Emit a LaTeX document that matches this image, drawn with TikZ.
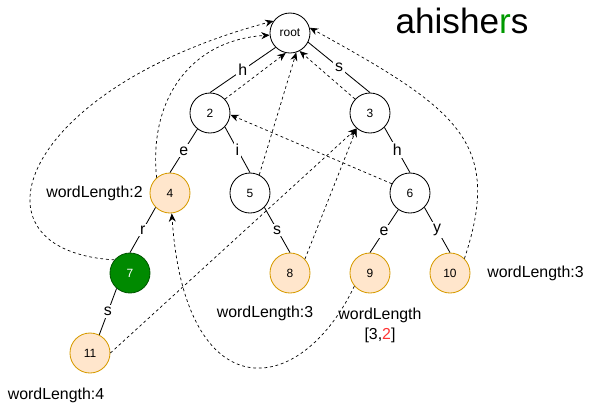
\documentclass[tikz,border=0pt]{standalone}
\usepackage{fontspec}
\setmainfont{Liberation Sans}
\usetikzlibrary{arrows.meta,positioning}
\definecolor{leafFill}{HTML}{FFE6CC}
\definecolor{leafLine}{HTML}{D79B00}
\definecolor{endFill}{HTML}{008A00}
\definecolor{endLine}{HTML}{005700}
\definecolor{titleGreen}{HTML}{009900}
\definecolor{numRed}{HTML}{FF3333}
\begin{document}
\begin{tikzpicture}[>={Stealth[length=6pt,width=5pt]},
  circ/.style={draw,circle,minimum size=1cm,inner sep=0pt,line width=.6pt,font=\fontsize{8.5}{10}\selectfont},
  leaf/.style={circ,draw=leafLine,fill=leafFill},
  word/.style={circ,draw=endLine,fill=endFill,text=white},
  link/.style={line width=.6pt},
  fail/.style={->,dash pattern=on 2pt off 2pt,line width=.5pt},
  lbl/.style={fill=white,inner sep=1.5pt,font=\fontsize{11.3}{13}\selectfont},
  wlen/.style={font=\fontsize{11.3}{14}\selectfont,align=center}]
\useasboundingbox (-7.25,.825) rectangle (7.525,-9.275);
\node[anchor=base,font=\fontsize{25}{30}\selectfont] (title) at (4.3,0) {ahishe{\color{titleGreen}r}s};
\node[circ] (root) at (0,0) {root};
\node[circ] (n2) at (-2,-2) {2};
\node[circ] (n3) at (2,-2) {3};
\node[leaf] (n4) at (-3,-4) {4};
\node[circ] (n5) at (-1,-4) {5};
\node[circ] (n6) at (3,-4) {6};
\node[word] (n7) at (-4,-6) {7};
\node[leaf] (n8) at (0,-6) {8};
\node[leaf] (n9) at (2,-6) {9};
\node[leaf] (n10) at (4,-6) {10};
\node[leaf] (n11) at (-5,-8) {11};
\node[wlen,left=.05 of n4] (wl4) {wordLength:2};
\node[wlen,below=.2 of n8,xshift=-.625cm] (wl8) {wordLength:3};
\node[wlen,below=.25 of n9,xshift=.25cm] (wl9) {wordLength\\{}[3,{\color{numRed}2}]};
\node[wlen,right=.3 of n10] (wl10) {wordLength:3};
\node[wlen,below=.25 of n11,xshift=-.85cm] (wl11) {wordLength:4};
\draw[link](root.225)--(n2.north)node[lbl,midway]{h};
\draw[link](root.-27)--(n3.north)node[lbl,midway]{s};
\draw[link](n2.232)--(n4.north)node[lbl,midway]{e};
\draw[link](n2.-43)--(n5.north)node[lbl,midway]{i};
\draw[link](n3.-45)--(n6.north)node[lbl,midway]{h};
\draw[link](n4.-135)--(n7.north)node[lbl,midway]{r};
\draw[link](n5.-45)--(n8.north)node[lbl,midway]{s};
\draw[link](n6.-125)--(n9.north)node[lbl,midway]{e};
\draw[link](n6.-45)--(n10.north)node[lbl,midway]{y};
\draw[link](n7.-131)--(n11.63)node[lbl,midway]{s};
\draw[fail](n2.43)--(root.-102);
\draw[fail](n3.137)--(root.-62);
\draw[fail](n5.63)--(root.-72);
\draw[fail](n6.153)--(n2.-5);
\draw[fail](n8.43)--(n3.229);
\draw[fail](n11.0)--(n3.229);
\draw[fail](n4.131)..controls +(-.2,1.925) and +(-2,-.125)..(root.186);
\draw[fail](n7.140)..controls +(-3.825,.225) and +(-6.375,-1.7)..(root.144);
\draw[fail](n9.220)..controls +(-1.375,-2.875) and +(.325,-4.9)..(n4.-85);
\draw[fail](n10.45)..controls +(.975,2.925) and +(3.675,-2.025)..(root.15);
\end{tikzpicture}
\end{document}
